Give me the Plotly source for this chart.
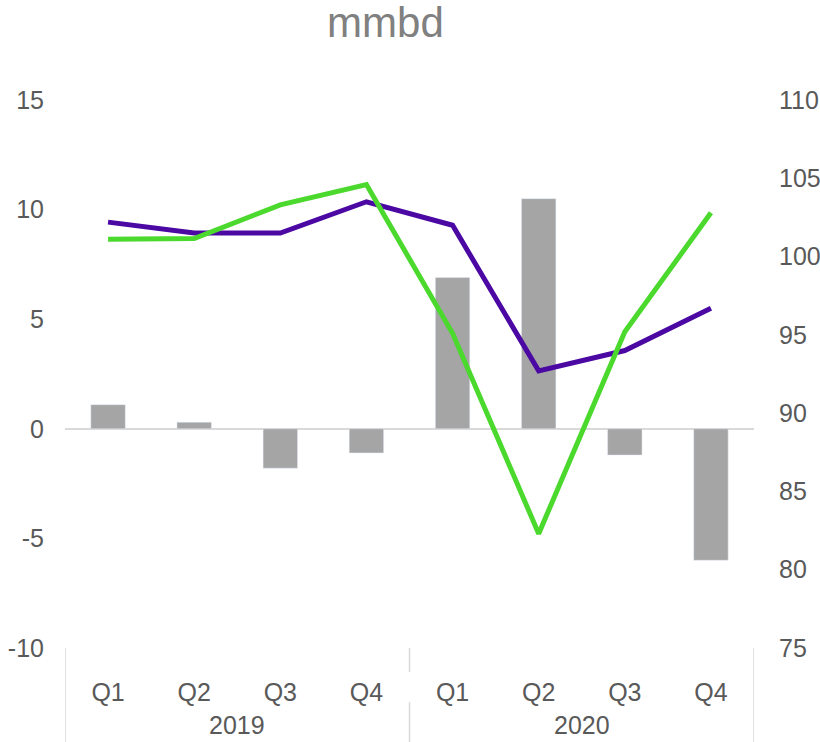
import plotly.graph_objects as go

# Quarterly data, 2019-2020
quarters = ["Q1", "Q2", "Q3", "Q4", "Q1", "Q2", "Q3", "Q4"]
years = ["2019", "2020"]
balance = [1.1, 0.3, -1.8, -1.1, 6.9, 10.5, -1.2, -6.0]          # bars, left axis
demand = [102.2, 101.5, 101.5, 103.5, 102.0, 92.7, 94.0, 96.7]    # purple line, right axis
supply = [101.1, 101.15, 103.3, 104.6, 95.1, 82.3, 95.2, 102.8]   # green line, right axis
left_ticks = [-10, -5, 0, 5, 10, 15]
left_labels = ["-10", "-5", "0", "5", "10", "15"]

x_pos = list(range(len(quarters)))
tick_grey = "#595959"
font_family = "Liberation Sans, Arial, sans-serif"
tick_font = dict(size=25, color=tick_grey, family=font_family)

fig = go.Figure()
fig.add_trace(go.Bar(x=x_pos, y=balance, marker_color="#a5a5a5", width=0.4,
                     yaxis="y", showlegend=False))
fig.add_trace(go.Scatter(x=x_pos, y=demand, mode="lines", yaxis="y2",
                         line=dict(color="#4b08a3", width=5), showlegend=False))
fig.add_trace(go.Scatter(x=x_pos, y=supply, mode="lines", yaxis="y2",
                         line=dict(color="#4ad92c", width=5), showlegend=False))

# year labels under the quarter labels
annotations = []
for i, yr in enumerate(years):
    annotations.append(dict(x=1.5 + 4 * i, y=-0.1405, xref="x", yref="paper",
                            text=yr, showarrow=False, xanchor="center", yanchor="middle",
                            font=tick_font))

# category group dividers
div_col = "#d9d9d9"
shapes = []
for xd in (-0.5, 7.5):
    shapes.append(dict(type="line", xref="x", yref="paper", x0=xd, x1=xd,
                       y0=0, y1=-0.1715, line=dict(color=div_col, width=1.5)))
for (y0, y1) in ((0, -0.044), (-0.099, -0.1715)):
    shapes.append(dict(type="line", xref="x", yref="paper", x0=3.5, x1=3.5,
                       y0=y0, y1=y1, line=dict(color=div_col, width=1.5)))

fig.update_layout(
    width=820, height=742,
    margin=dict(l=65, r=66, t=100, b=94),
    paper_bgcolor="white", plot_bgcolor="white",
    font=dict(family=font_family, color=tick_grey, size=25),
    title=dict(text="mmbd", x=0.47, xanchor="center", y=0.97, yanchor="middle",
               font=dict(size=42, color="#808080", family=font_family)),
    bargap=0.5,
    xaxis=dict(range=[-0.5, 7.5], tickvals=x_pos, ticktext=quarters, automargin=False,
               showgrid=False, zeroline=False, showline=False, ticks="",
               ticklabelstandoff=27, tickfont=tick_font),
    yaxis=dict(range=[-10, 15], tickvals=left_ticks, ticktext=left_labels, automargin=False,
               showgrid=False, zeroline=True,
               zerolinecolor="#d9d9d9", zerolinewidth=2, showline=False,
               ticks="", ticklabelstandoff=20, tickfont=tick_font),
    yaxis2=dict(range=[75, 110], dtick=5, overlaying="y", side="right", automargin=False,
                showgrid=False, zeroline=False, showline=False, ticks="",
                ticklabelstandoff=24, tickfont=tick_font),
    annotations=annotations,
    shapes=shapes,
)

fig.write_html("out.html")
